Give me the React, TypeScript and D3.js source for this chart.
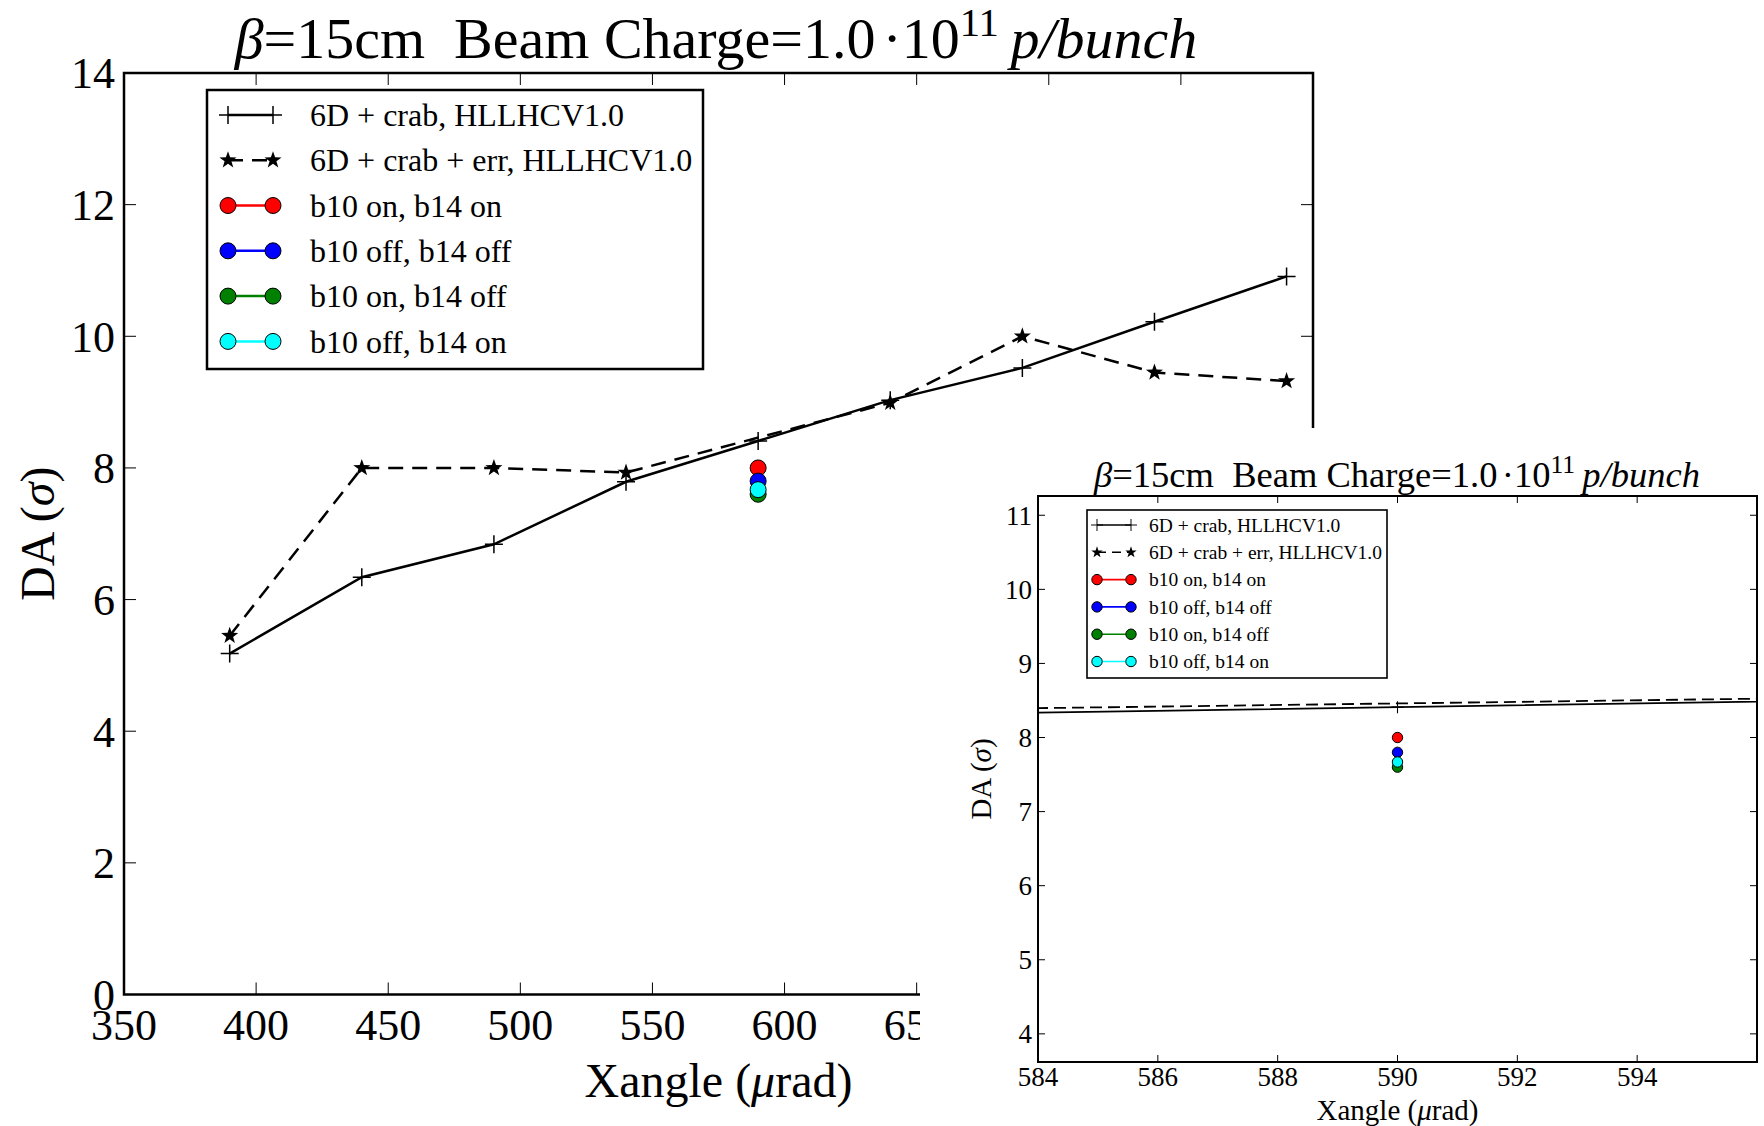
import React from "react";
import * as d3 from "d3";

// ---------- data ----------
const crabX = [390, 440, 490, 540, 590, 640, 690, 740, 790];
const crabY = [5.18, 6.34, 6.84, 7.79, 8.41, 9.03, 9.52, 10.22, 10.91];
const errX = [390, 440, 490, 540, 640, 690, 740, 790];
const errY = [5.45, 8.0, 8.0, 7.93, 8.99, 10.0, 9.45, 9.32];
const pointX = [590];
const b10onb14on = [8.0];
const b10offb14off = [7.8];
const b10onb14off = [7.6];
const b10offb14on = [7.67];
const mainXTicks = [350, 400, 450, 500, 550, 600, 650, 700, 750, 800];
const mainYTicks = [0, 2, 4, 6, 8, 10, 12, 14];
const insetXTicks = [584, 586, 588, 590, 592, 594];
const insetYTicks = [4, 5, 6, 7, 8, 9, 10, 11];
const legendLabels = [
  "6D + crab, HLLHCV1.0",
  "6D + crab + err, HLLHCV1.0",
  "b10 on, b14 on",
  "b10 off, b14 off",
  "b10 on, b14 off",
  "b10 off, b14 on",
];
const dotSeries = [
  { vals: b10onb14on, color: "#ff0000" },
  { vals: b10offb14off, color: "#0000ff" },
  { vals: b10onb14off, color: "#008000" },
  { vals: b10offb14on, color: "#00ffff" },
];

const FONT = "'Liberation Serif', 'Times New Roman', serif";

function starPath(R: number) {
  const pts: string[] = [];
  for (let i = 0; i < 10; i++) {
    const r = i % 2 === 0 ? R : R * 0.4;
    const a = (-90 + i * 36) * (Math.PI / 180);
    pts.push(`${(r * Math.cos(a)).toFixed(2)},${(r * Math.sin(a)).toFixed(2)}`);
  }
  return "M" + pts.join("L") + "Z";
}
function plusPath(r: number) {
  return `M${-r},0H${r}M0,${-r}V${r}`;
}

function Title({ x, y, size }: { x: number; y: number; size: number }) {
  return (
    <text x={x} y={y} fontSize={size} fontFamily={FONT} textAnchor="middle" fill="#000">
      <tspan fontStyle="italic">β</tspan>
      <tspan>=15cm</tspan>
      <tspan dx={size * 0.5}>Beam Charge=1.0</tspan>
      <tspan dx={size * 0.12}>·10</tspan>
      <tspan dy={-size * 0.38} fontSize={size * 0.7}>11</tspan>
      <tspan dy={size * 0.38} dx={size * 0.2} fontStyle="italic">p/bunch</tspan>
    </text>
  );
}

function Legend({
  x, y, w, h, rowH, fs, hx0, hx1, tx, lw, plusR, starR, dotR, dash,
}: any) {
  return (
    <g>
      <rect x={x} y={y} width={w} height={h} fill="#fff" stroke="#000" strokeWidth={lw} />
      {legendLabels.map((lab, i) => {
        const cy = y + rowH * (i + 0.55);
        let handle;
        if (i === 0) {
          handle = (
            <g>
              <line x1={hx0} x2={hx1} y1={cy} y2={cy} stroke="#000" strokeWidth={lw} />
              <path d={plusPath(plusR)} transform={`translate(${hx0},${cy})`} stroke="#000" strokeWidth={lw * 0.6} />
              <path d={plusPath(plusR)} transform={`translate(${hx1},${cy})`} stroke="#000" strokeWidth={lw * 0.6} />
            </g>
          );
        } else if (i === 1) {
          handle = (
            <g>
              <line x1={hx0} x2={hx1} y1={cy} y2={cy} stroke="#000" strokeWidth={lw} strokeDasharray={dash} />
              <path d={starPath(starR)} transform={`translate(${hx0},${cy})`} fill="#000" />
              <path d={starPath(starR)} transform={`translate(${hx1},${cy})`} fill="#000" />
            </g>
          );
        } else {
          const c = dotSeries[i - 2].color;
          handle = (
            <g>
              <line x1={hx0} x2={hx1} y1={cy} y2={cy} stroke={c} strokeWidth={lw} />
              <circle cx={hx0} cy={cy} r={dotR} fill={c} stroke="#000" strokeWidth={1} />
              <circle cx={hx1} cy={cy} r={dotR} fill={c} stroke="#000" strokeWidth={1} />
            </g>
          );
        }
        return (
          <g key={i}>
            {handle}
            <text x={tx} y={cy} dy="0.35em" fontSize={fs} fontFamily={FONT}>{lab}</text>
          </g>
        );
      })}
    </g>
  );
}

function Panel(props: any) {
  const {
    id, L, R, T, B, xDom, yDom, xTicks, yTicks, lw, tickLen, tickFs, lineW,
    dash, plusR, starR, dotR, showStars, xLabelY, xLabelFs, yLabelX, yLabelFs,
    xTickLabelY, yTickLabelX,
  } = props;
  const x = d3.scaleLinear().domain(xDom).range([L, R]);
  const y = d3.scaleLinear().domain(yDom).range([B, T]);
  const line = d3.line<[number, number]>().x((d) => x(d[0])).y((d) => y(d[1]));
  const crab = crabX.map((v, i) => [v, crabY[i]] as [number, number]);
  const err = errX.map((v, i) => [v, errY[i]] as [number, number]);
  return (
    <g>
      <defs>
        <clipPath id={id}>
          <rect x={L} y={T} width={R - L} height={B - T} />
        </clipPath>
      </defs>
      <g clipPath={`url(#${id})`}>
        <path d={line(err) || ""} fill="none" stroke="#000" strokeWidth={lineW} strokeDasharray={dash} />
        <path d={line(crab) || ""} fill="none" stroke="#000" strokeWidth={lineW} />
        {crab.map((d, i) => (
          <path key={"p" + i} d={plusPath(plusR)} transform={`translate(${x(d[0])},${y(d[1])})`} stroke="#000" strokeWidth={lineW * 0.6} />
        ))}
        {showStars &&
          err.map((d, i) => (
            <path key={"s" + i} d={starPath(starR)} transform={`translate(${x(d[0])},${y(d[1])})`} fill="#000" />
          ))}
        {dotSeries.map((s, si) =>
          s.vals.map((v, i) => (
            <circle key={si + "-" + i} cx={x(pointX[i])} cy={y(v)} r={dotR} fill={s.color} stroke="#000" strokeWidth={1} />
          ))
        )}
      </g>
      {xTicks.map((t: number) => (
        <g key={"xt" + t}>
          <line x1={x(t)} x2={x(t)} y1={B} y2={B - tickLen} stroke="#000" strokeWidth={1} />
          <line x1={x(t)} x2={x(t)} y1={T} y2={T + tickLen} stroke="#000" strokeWidth={1} />
          <text x={x(t)} y={xTickLabelY} fontSize={tickFs} fontFamily={FONT} textAnchor="middle">{t}</text>
        </g>
      ))}
      {yTicks.map((t: number) => (
        <g key={"yt" + t}>
          <line x1={L} x2={L + tickLen} y1={y(t)} y2={y(t)} stroke="#000" strokeWidth={1} />
          <line x1={R} x2={R - tickLen} y1={y(t)} y2={y(t)} stroke="#000" strokeWidth={1} />
          <text x={yTickLabelX} y={y(t)} dy="0.35em" fontSize={tickFs} fontFamily={FONT} textAnchor="end">{t}</text>
        </g>
      ))}
      <rect x={L} y={T} width={R - L} height={B - T} fill="none" stroke="#000" strokeWidth={lw} />
      <text x={(L + R) / 2} y={xLabelY} fontSize={xLabelFs} fontFamily={FONT} textAnchor="middle">
        Xangle (<tspan fontStyle="italic">μ</tspan>rad)
      </text>
      <text
        transform={`translate(${yLabelX},${(T + B) / 2}) rotate(-90)`}
        fontSize={yLabelFs} fontFamily={FONT} textAnchor="middle" dy="0.35em"
      >
        DA (<tspan fontStyle="italic">σ</tspan>)
      </text>
    </g>
  );
}

export default function App() {
  return (
    <svg width={1764} height={1126} style={{ position: "absolute", left: 0, top: 0, background: "#fff" }}>
      <rect x={0} y={0} width={1764} height={1126} fill="#fff" />
      {/* main chart */}
      <Title x={716} y={58} size={58} />
      <Panel
        id="clipMain" L={124} R={1313} T={73} B={994.5}
        xDom={[350, 800]} yDom={[0, 14]} xTicks={mainXTicks} yTicks={mainYTicks}
        lw={2.5} tickLen={12} tickFs={44} lineW={2.5} dash="15,9"
        plusR={9} starR={9} dotR={8} showStars={true}
        xLabelY={1097} xLabelFs={48} yLabelX={37} yLabelFs={48}
        xTickLabelY={1040} yTickLabelX={115}
      />
      <Legend
        x={207} y={90} w={496} h={279} rowH={45.3} fs={32}
        hx0={228} hx1={273} tx={310} lw={2.5} plusR={9} starR={9} dotR={8} dash="15,9"
      />
      {/* inset */}
      <rect x={920} y={428} width={844} height={698} fill="#fff" />
      <Title x={1397} y={487} size={36.5} />
      <Panel
        id="clipInset" L={1038} R={1757} T={496} B={1062}
        xDom={[584, 596]} yDom={[3.62, 11.26]} xTicks={insetXTicks} yTicks={insetYTicks}
        lw={2} tickLen={7} tickFs={27} lineW={1.8} dash="12,6"
        plusR={6} starR={6} dotR={5.2} showStars={false}
        xLabelY={1120} xLabelFs={29} yLabelX={981} yLabelFs={29}
        xTickLabelY={1086} yTickLabelX={1032}
      />
      <Legend
        x={1087} y={510} w={300} h={168} rowH={27.3} fs={19.5}
        hx0={1097} hx1={1131} tx={1149} lw={1.6} plusR={6} starR={6} dotR={5.2} dash="9,6"
      />
    </svg>
  );
}
